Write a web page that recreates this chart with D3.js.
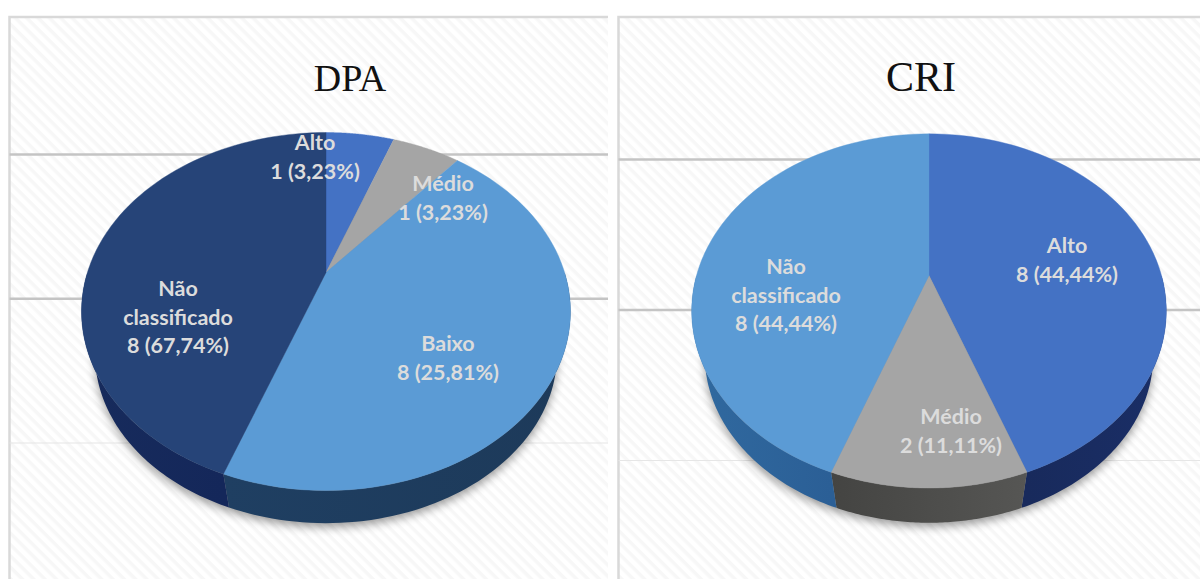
<!DOCTYPE html>
<html><head><meta charset="utf-8">
<script src="https://cdn.jsdelivr.net/npm/d3@7"></script>
<style>html,body{margin:0;padding:0;background:#fff;overflow:hidden}svg{display:block}</style>
</head><body><svg id="c" width="1200" height="579"></svg>
<script>
const dpaTitle = "DPA";
const dpaCategories = ["Alto","Médio","Baixo","Não classificado"];
const dpaCounts = [1,1,8,8];
const dpaLabels = [["Alto","1 (3,23%)"],["Médio","1 (3,23%)"],["Baixo","8 (25,81%)"],["Não","classificado","8 (67,74%)"]];
const criTitle = "CRI";
const criCategories = ["Alto","Médio","Não classificado"];
const criCounts = [8,2,8];
const criLabels = [["Alto","8 (44,44%)"],["Médio","2 (11,11%)"],["Não","classificado","8 (44,44%)"]];
const dpaTop = {"Alto":"#4472c4","Médio":"#a5a5a5","Baixo":"#5b9bd5","Não classificado":"#264478"};
const dpaSide = {"Alto":["#2a4a8c","#16316b"],"Médio":["#5a5a58","#3f3f3f"],"Baixo":["#1d3a5a","#1f3f62"],"Não classificado":["#14275a","#172b5c"]};
const criTop = {"Alto":"#4472c4","Médio":"#a5a5a5","Não classificado":"#5b9bd5"};
const criSide = {"Alto":["#1a2e66","#182a5c"],"Médio":["#565654","#444442"],"Não classificado":["#2b5f96","#30699f"]};

const svg = d3.select("#c");
const defs = svg.append("defs");
const pat = defs.append("pattern").attr("id","hatch").attr("width",8).attr("height",8)
  .attr("patternUnits","userSpaceOnUse").attr("patternTransform","rotate(45)");
pat.append("rect").attr("width",8).attr("height",8).attr("fill","#ffffff");
pat.append("rect").attr("width",8).attr("height",3.5).attr("fill","#f7f7f7");
const blur = defs.append("filter").attr("id","shadow").attr("x","-10%").attr("y","-10%").attr("width","120%").attr("height","130%");
blur.append("feGaussianBlur").attr("stdDeviation",5);

function panel(o){
  const g = svg.append("g");
  g.append("rect").attr("x",o.x0).attr("y",o.y0).attr("width",o.x1-o.x0).attr("height",o.y1-o.y0)
    .attr("fill","url(#hatch)");
  g.append("path").attr("d",`M${o.x0},${o.y1}V${o.y0}H${o.x1}`).attr("fill","none")
    .attr("stroke","#d9d9d9").attr("stroke-width",2.5);
  const grid = d3.scaleLinear().domain(o.gridDomain).range(o.gridRange);
  o.gridTicks.forEach((t,i)=>{
    g.append("line").attr("x1",o.x0).attr("x2",o.x1).attr("y1",grid(t)).attr("y2",grid(t))
      .attr("stroke",i<2?"#c4c4c4":"#e6e6e6").attr("stroke-width",i<2?2.5:1.2);
  });
  g.append("text").attr("x",o.titleX).attr("y",91).attr("text-anchor","middle")
    .attr("font-family","'Liberation Serif',serif").attr("font-size",o.titleSize).attr("fill","#111").text(o.title);

  // tilted disc: perspective projection of the unit circle, lower rim a slightly smaller copy
  const {cx,cy,A,B,k,ey,rimY,rimS} = o;
  const proj = ang=>{
    const u=Math.sin(ang), v=Math.cos(ang), w=1+k*v;
    return [cx+u*A/w, cy-v*B/w];
  };
  const rim = ang=>{
    const p=proj(ang);
    return [cx+rimS*(p[0]-cx), rimY+rimS*(p[1]-ey)];
  };
  const line = d3.line();
  const range = (a,b)=>d3.range(0,73).map(i=>a+(b-a)*i/72);
  const arcs = d3.pie().sort(null).value(d=>d)(o.counts);
  const tau = 2*Math.PI;

  // shadow under the disc
  g.append("path").attr("d",line(range(0,tau).map(a=>{const p=rim(a);return [p[0],p[1]+4];}))+"Z")
    .attr("fill","#000").attr("opacity",.4).attr("filter","url(#shadow)");

  // side wall
  arcs.forEach((d,i)=>{
    const cat=o.categories[i];
    const a=Math.max(d.startAngle,Math.PI/2), b=Math.min(d.endAngle,3*Math.PI/2);
    if(b<=a) return;
    const id="side"+o.title+i;
    const grad=defs.append("linearGradient").attr("id",id).attr("gradientUnits","userSpaceOnUse")
      .attr("x1",proj(a)[0]).attr("x2",proj(b)[0]).attr("y1",0).attr("y2",0);
    grad.append("stop").attr("offset",0).attr("stop-color",o.side[cat][0]);
    grad.append("stop").attr("offset",1).attr("stop-color",o.side[cat][1]);
    const pts=range(a,b);
    g.append("path").attr("d",line(pts.map(proj).concat(pts.slice().reverse().map(rim)))+"Z")
      .attr("fill","url(#"+id+")");
  });

  // top face
  arcs.forEach((d,i)=>{
    const cat=o.categories[i];
    g.append("path").attr("d",line([[cx,cy]].concat(range(d.startAngle,d.endAngle).map(proj)))+"Z")
      .attr("fill",o.top[cat]).attr("stroke",o.top[cat]).attr("stroke-width",.4);
  });

  // labels
  o.labels.forEach((lines,i)=>{
    const [lx,ly]=o.labelPos[i];
    const t=g.append("text").attr("text-anchor","middle")
      .attr("font-family","Lato,'Open Sans',sans-serif").attr("font-weight",700).attr("font-size",21.5).attr("fill","#dcdcdc");
    lines.forEach((s,j)=>t.append("tspan").attr("x",lx).attr("y",ly+j*28.5).text(s));
  });
}

panel({x0:9.5,x1:608,y0:17,y1:590,title:dpaTitle,titleX:350,titleSize:38,
  gridDomain:[0,2],gridRange:[154.5,443],gridTicks:[0,1,2],
  cx:326,cy:272.5,A:238.6,B:170.5,k:.218,ey:311,rimY:353.5,rimS:.945,
  categories:dpaCategories,counts:dpaCounts,labels:dpaLabels,side:dpaSide,top:dpaTop,
  labelPos:[[315,150],[443,191],[448,351],[178,296]]});
panel({x0:618.5,x1:1203,y0:17,y1:590,title:criTitle,titleX:921,titleSize:42,
  gridDomain:[0,2],gridRange:[159.5,460.5],gridTicks:[0,1,2],
  cx:929,cy:275.5,A:232.5,B:170,k:.2,ey:311,rimY:355.5,rimS:.945,
  categories:criCategories,counts:criCounts,labels:criLabels,side:criSide,top:criTop,
  labelPos:[[1067,253],[951,424],[786,274]]});
</script></body></html>
